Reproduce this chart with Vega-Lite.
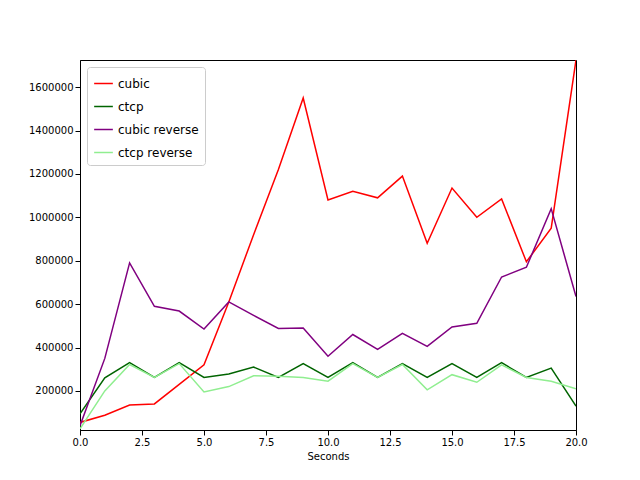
{
  "$schema": "https://vega.github.io/schema/vega-lite/v6.json",
  "autosize": {"type": "none"},
  "padding": {"left": 80, "top": 60, "right": 64, "bottom": 50},
  "width": 496,
  "height": 370,
  "config": {
    "font": "DejaVu Sans",
    "view": {"stroke": "black"},
    "axis": {"grid": false, "labelFontSize": 10, "titleFontSize": 10, "titleFontWeight": "normal", "domainColor": "black", "tickColor": "black", "labelColor": "black", "labelFlush": false}
  },
  "datasets": {
    "d": [
      {"t":0,"s":"cubic","v":55000},{"t":1,"s":"cubic","v":88000},{"t":2,"s":"cubic","v":135000},{"t":3,"s":"cubic","v":140000},{"t":4,"s":"cubic","v":230000},{"t":5,"s":"cubic","v":320000},{"t":6,"s":"cubic","v":610000},{"t":7,"s":"cubic","v":920000},{"t":8,"s":"cubic","v":1220000},{"t":9,"s":"cubic","v":1550000},{"t":10,"s":"cubic","v":1080000},{"t":11,"s":"cubic","v":1120000},{"t":12,"s":"cubic","v":1090000},{"t":13,"s":"cubic","v":1190000},{"t":14,"s":"cubic","v":880000},{"t":15,"s":"cubic","v":1135000},{"t":16,"s":"cubic","v":1000000},{"t":17,"s":"cubic","v":1085000},{"t":18,"s":"cubic","v":795000},{"t":19,"s":"cubic","v":950000},{"t":20,"s":"cubic","v":1725000},
      {"t":0,"s":"ctcp","v":95000},{"t":1,"s":"ctcp","v":260000},{"t":2,"s":"ctcp","v":330000},{"t":3,"s":"ctcp","v":262000},{"t":4,"s":"ctcp","v":330000},{"t":5,"s":"ctcp","v":262000},{"t":6,"s":"ctcp","v":278000},{"t":7,"s":"ctcp","v":310000},{"t":8,"s":"ctcp","v":262000},{"t":9,"s":"ctcp","v":326000},{"t":10,"s":"ctcp","v":262000},{"t":11,"s":"ctcp","v":330000},{"t":12,"s":"ctcp","v":262000},{"t":13,"s":"ctcp","v":326000},{"t":14,"s":"ctcp","v":262000},{"t":15,"s":"ctcp","v":326000},{"t":16,"s":"ctcp","v":262000},{"t":17,"s":"ctcp","v":330000},{"t":18,"s":"ctcp","v":262000},{"t":19,"s":"ctcp","v":305000},{"t":20,"s":"ctcp","v":130000},
      {"t":0,"s":"cubic reverse","v":40000},{"t":1,"s":"cubic reverse","v":350000},{"t":2,"s":"cubic reverse","v":790000},{"t":3,"s":"cubic reverse","v":590000},{"t":4,"s":"cubic reverse","v":568000},{"t":5,"s":"cubic reverse","v":485000},{"t":6,"s":"cubic reverse","v":610000},{"t":7,"s":"cubic reverse","v":548000},{"t":8,"s":"cubic reverse","v":488000},{"t":9,"s":"cubic reverse","v":490000},{"t":10,"s":"cubic reverse","v":360000},{"t":11,"s":"cubic reverse","v":460000},{"t":12,"s":"cubic reverse","v":392000},{"t":13,"s":"cubic reverse","v":465000},{"t":14,"s":"cubic reverse","v":405000},{"t":15,"s":"cubic reverse","v":495000},{"t":16,"s":"cubic reverse","v":512000},{"t":17,"s":"cubic reverse","v":725000},{"t":18,"s":"cubic reverse","v":770000},{"t":19,"s":"cubic reverse","v":1040000},{"t":20,"s":"cubic reverse","v":635000},
      {"t":0,"s":"ctcp reverse","v":25000},{"t":1,"s":"ctcp reverse","v":200000},{"t":2,"s":"ctcp reverse","v":322000},{"t":3,"s":"ctcp reverse","v":262000},{"t":4,"s":"ctcp reverse","v":326000},{"t":5,"s":"ctcp reverse","v":195000},{"t":6,"s":"ctcp reverse","v":220000},{"t":7,"s":"ctcp reverse","v":270000},{"t":8,"s":"ctcp reverse","v":268000},{"t":9,"s":"ctcp reverse","v":262000},{"t":10,"s":"ctcp reverse","v":245000},{"t":11,"s":"ctcp reverse","v":326000},{"t":12,"s":"ctcp reverse","v":262000},{"t":13,"s":"ctcp reverse","v":322000},{"t":14,"s":"ctcp reverse","v":205000},{"t":15,"s":"ctcp reverse","v":275000},{"t":16,"s":"ctcp reverse","v":240000},{"t":17,"s":"ctcp reverse","v":320000},{"t":18,"s":"ctcp reverse","v":262000},{"t":19,"s":"ctcp reverse","v":245000},{"t":20,"s":"ctcp reverse","v":210000}
    ]
  },
  "data": {"name": "d"},
  "mark": {"type": "line", "strokeWidth": 1.5, "clip": true},
  "encoding": {
    "x": {"field": "t", "type": "quantitative", "title": "Seconds", "scale": {"domain": [0, 20], "nice": false},
      "axis": {"values": [0, 2.5, 5, 7.5, 10, 12.5, 15, 17.5, 20], "format": ".1f"}},
    "y": {"field": "v", "type": "quantitative", "title": null, "scale": {"domain": [20000, 1725000], "nice": false, "zero": false},
      "axis": {"values": [200000, 400000, 600000, 800000, 1000000, 1200000, 1400000, 1600000], "format": "d"}},
    "color": {"field": "s", "type": "nominal", "sort": ["cubic", "ctcp", "cubic reverse", "ctcp reverse"],
      "scale": {"domain": ["cubic", "ctcp", "cubic reverse", "ctcp reverse"], "range": ["red", "darkgreen", "purple", "lightgreen"]},
      "legend": {"title": null, "orient": "top-left", "offset": 7, "symbolType": "stroke", "symbolSize": 350, "symbolStrokeWidth": 1.5, "labelFontSize": 12, "rowPadding": 6,
        "strokeColor": "#cccccc", "fillColor": "white", "padding": 6, "cornerRadius": 3}}
  }
}
